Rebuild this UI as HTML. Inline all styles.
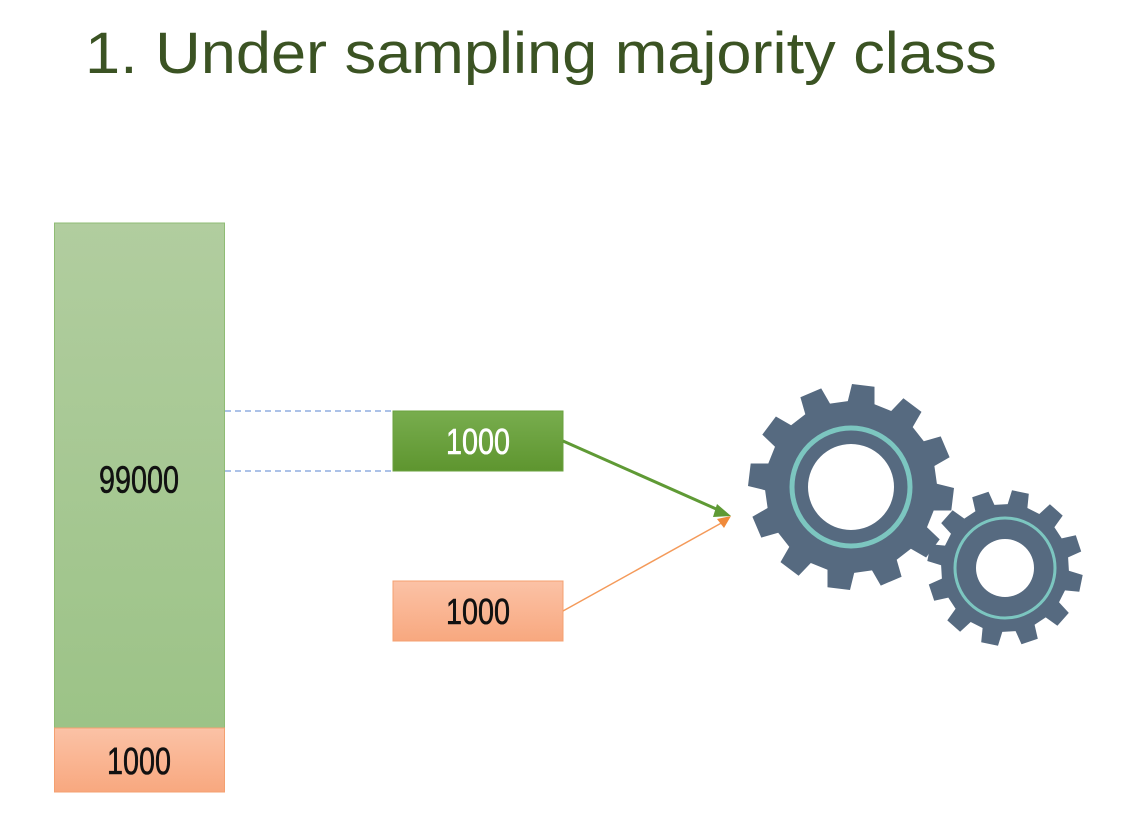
<!DOCTYPE html>
<html><head><meta charset="utf-8"><style>
html,body{margin:0;padding:0;background:#fff;}
svg{display:block;}
text{font-family:"Liberation Sans",sans-serif;}
</style></head><body>
<svg id="c" width="1132" height="830" viewBox="0 0 1132 830" xmlns="http://www.w3.org/2000/svg">
<defs>
<linearGradient id="gBig" x1="0" y1="0" x2="0" y2="1"><stop offset="0" stop-color="#b1cd9f"/><stop offset="1" stop-color="#9cc387"/></linearGradient>
<linearGradient id="gOr" x1="0" y1="0" x2="0" y2="1"><stop offset="0" stop-color="#fbc2a6"/><stop offset="1" stop-color="#f8a87f"/></linearGradient>
<linearGradient id="gGr" x1="0" y1="0" x2="0" y2="1"><stop offset="0" stop-color="#78ad4e"/><stop offset="1" stop-color="#5e952f"/></linearGradient>
</defs>
<text x="85" y="73" font-size="58" fill="#3b5323" textLength="912" lengthAdjust="spacingAndGlyphs">1. Under sampling majority class</text>
<g id="bars"></g>
<g id="gears"></g>
</svg>
<script>
const categories = ["majority", "minority", "sampled-majority", "minority-copy"];
const classCounts = [99000, 1000, 1000, 1000];
const countLabels = ["99000", "1000", "1000", "1000"];

const NS = "http://www.w3.org/2000/svg";
const bars = document.getElementById("bars");
function mk(tag, attrs, parent){const e=document.createElementNS(NS,tag);for(const k in attrs)e.setAttribute(k,attrs[k]);(parent||bars).appendChild(e);return e;}
function label(x,y,txt,fill,size,name){
  const t=mk("text",{x:x,y:y,"font-size":size,"text-anchor":"middle",fill:fill,stroke:fill,"stroke-width":0.6,textLength:txt.length*16,lengthAdjust:"spacingAndGlyphs"});
  t.textContent=txt;
  
  
}

const barTop = 223, barBottom = 792;
const H = barBottom - barTop;
function segH(v){ return 64 * Math.pow(v/1000, 0.0); }
const minH = segH(classCounts[1]);
const majH = H - minH;

let r = mk("rect",{x:54.5,y:barTop,width:170,height:majH,fill:"url(#gBig)",stroke:"#8fbc74","stroke-width":1});


label(139,barTop+majH/2+17,countLabels[0],"#111",38,'majority-label');
r = mk("rect",{x:54.5,y:barTop+majH,width:170,height:minH,fill:"url(#gOr)",stroke:"#f4a070","stroke-width":1});


label(139,barTop+majH+minH/2+14,countLabels[1],"#111",38,'minority-label');

const boxH = segH(classCounts[2]) - 4;
const gy = 411, oy = 581;
let l = mk("line",{x1:225,y1:gy,x2:393,y2:gy,stroke:"#7b9ed9","stroke-width":1.2,"stroke-dasharray":"6,4"});


l = mk("line",{x1:225,y1:gy+boxH,x2:393,y2:gy+boxH,stroke:"#7b9ed9","stroke-width":1.2,"stroke-dasharray":"6,4"});



r = mk("rect",{x:393,y:gy,width:170,height:boxH,fill:"url(#gGr)",stroke:"#6aa23e","stroke-width":1});


label(478,gy+boxH/2+13,countLabels[2],"#fff",36,'sampled-majority-label');
r = mk("rect",{x:393,y:oy,width:170,height:boxH,fill:"url(#gOr)",stroke:"#f4a070","stroke-width":1});


label(478,oy+boxH/2+13,countLabels[3],"#111",36,'minority-sample-label');

const tip = [731,516];
l = mk("line",{x1:563,y1:gy+boxH/2,x2:tip[0]-8,y2:tip[1]-4,stroke:"#5f9a35","stroke-width":3});


let p = mk("polygon",{points:`${tip[0]},${tip[1]} ${tip[0]-14},${tip[1]-12} ${tip[0]-18},${tip[1]+1}`,fill:"#5f9a35"});


l = mk("line",{x1:563,y1:oy+boxH/2,x2:tip[0]-6,y2:tip[1]+5,stroke:"#f49a5a","stroke-width":1.5});


p = mk("polygon",{points:`${tip[0]},${tip[1]} ${tip[0]-14},${tip[1]+3} ${tip[0]-7},${tip[1]+12}`,fill:"#f08a3a"});



const gears = document.getElementById("gears");
function gear(cx,cy,rOut,rIn,n,rot,holeR,ringR,ringW,name){
  let d="";
  const step=2*Math.PI/n;
  for(let i=0;i<n;i++){
    const a=rot+i*step;
    const pts=[[rIn,a-step*0.30],[rOut,a-step*0.21],[rOut,a+step*0.21],[rIn,a+step*0.30]];
    pts.forEach((q,j)=>{const x=cx+q[0]*Math.cos(q[1]),y=cy+q[0]*Math.sin(q[1]);d+=(i==0&&j==0?"M":"L")+x.toFixed(1)+","+y.toFixed(1);});
  }
  d+="Z";
  d+=`M${cx+holeR},${cy}A${holeR},${holeR} 0 1 0 ${cx-holeR},${cy}A${holeR},${holeR} 0 1 0 ${cx+holeR},${cy}Z`;
  const g=mk("path",{d:d,fill:"#566a80","fill-rule":"evenodd"},gears);
  
  
  const c=mk("circle",{cx:cx,cy:cy,r:ringR,fill:"none",stroke:"#7cc6c0","stroke-width":ringW},gears);
  
  
}
gear(851,487,103,86,12,-Math.PI/2+0.12,43,59,5,'large-gear');
gear(1005,568,78,64,12,-Math.PI/2+0.2,29,50,3,'small-gear');
</script>
</body></html>
